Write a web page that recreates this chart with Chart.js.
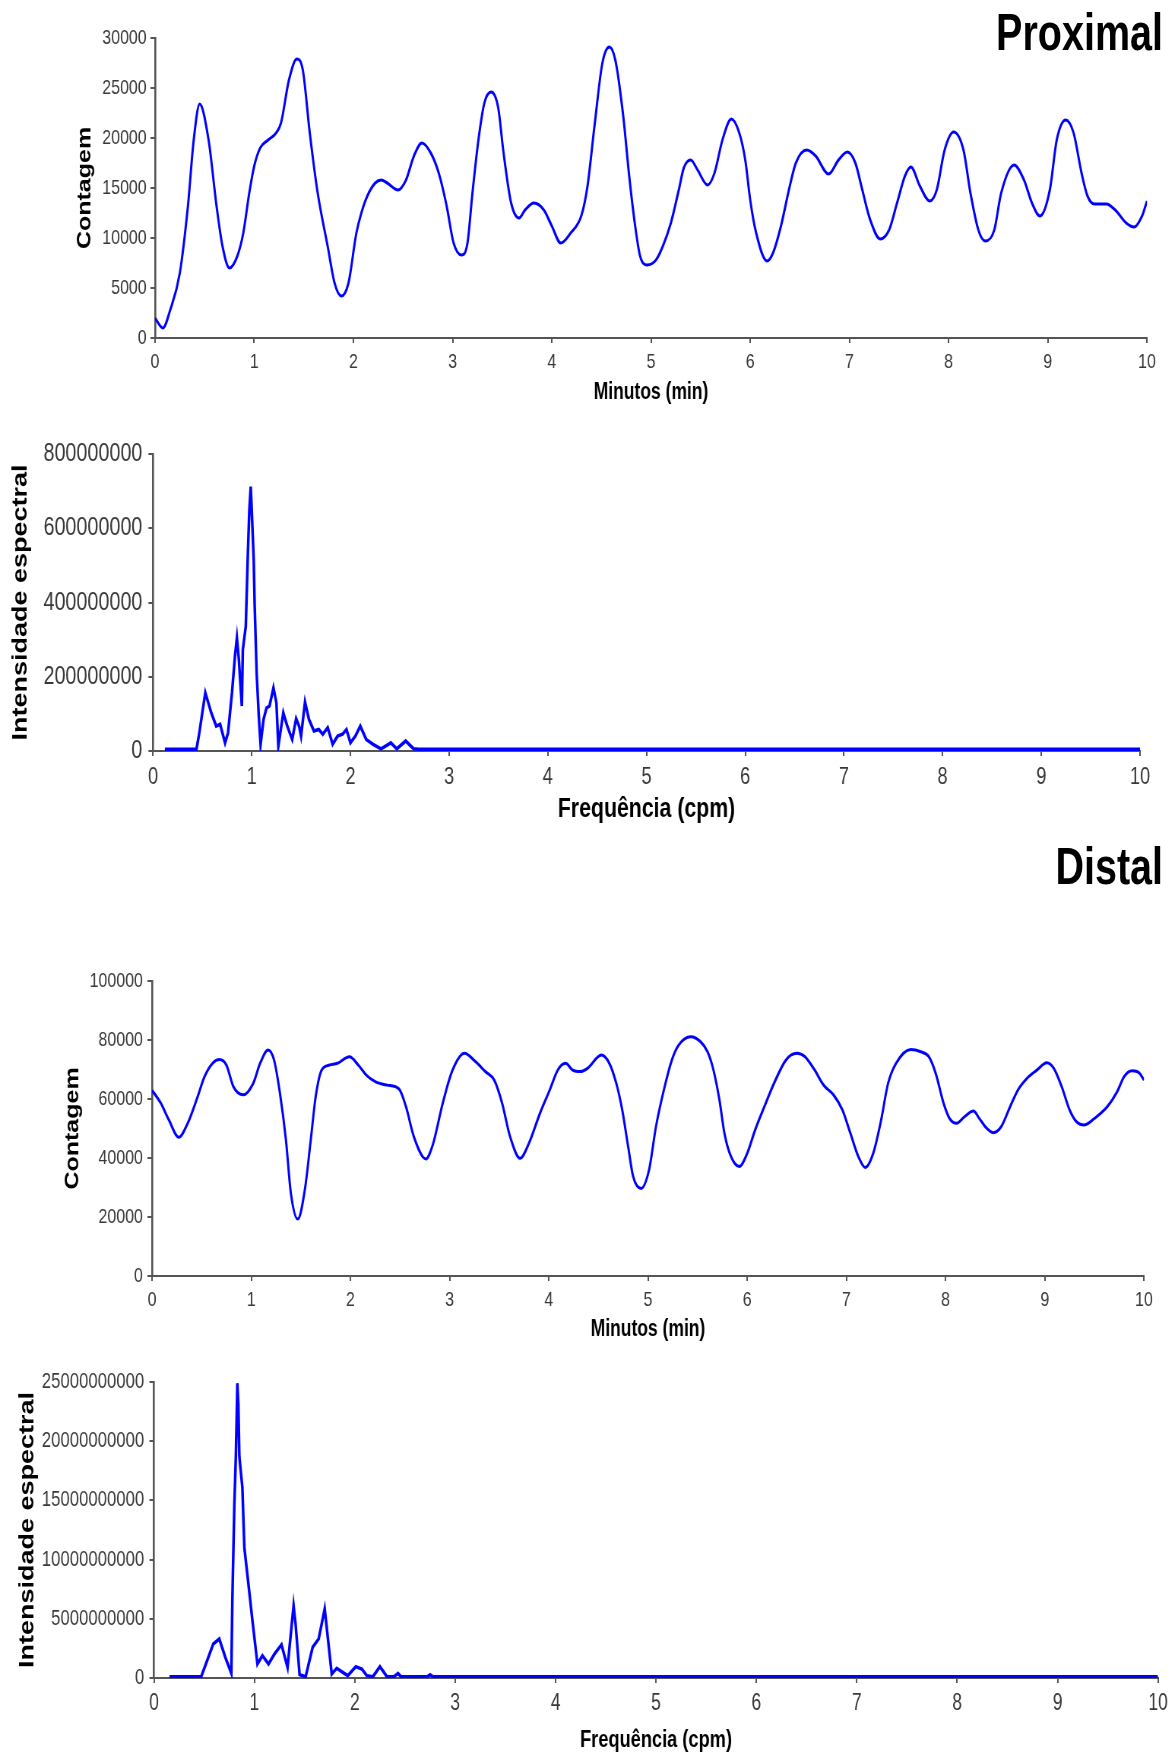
<!DOCTYPE html>
<html>
<head>
<meta charset="utf-8">
<script src="https://cdn.jsdelivr.net/npm/chart.js@4.4.1/dist/chart.umd.min.js"></script>
<style>
  html, body { margin: 0; padding: 0; background: #fff; width: 1176px; height: 1755px; overflow: hidden; }
  #sheet { position: absolute; left: 0; top: 0; height: 1755px; transform-origin: 0 0; }
  #sheet canvas { position: absolute; left: 0; }
  .heading { position: absolute; font-family: "Liberation Sans", Arial, sans-serif; font-weight: bold;
             font-size: 52px; line-height: 52px; color: #000; white-space: nowrap; }
</style>
</head>
<body>
<div id="sheet">
  <div class="heading" id="hProx">Proximal</div>
  <canvas id="proxTime"></canvas>
  <canvas id="proxSpec"></canvas>
  <div class="heading" id="hDist">Distal</div>
  <canvas id="distTime"></canvas>
  <canvas id="distSpec"></canvas>
</div>
<script>
// ---------------- data ----------------
// Proximal: counts over time
const proxMin = [0, 0.08, 0.15, 0.25, 0.33, 0.39, 0.45, 0.54, 0.62, 0.68,
  0.75, 0.83, 0.89, 0.95, 1.0, 1.06, 1.14, 1.22, 1.27, 1.35,
  1.43, 1.49, 1.56, 1.64, 1.74, 1.81, 1.88, 1.95, 2.03, 2.08,
  2.14, 2.22, 2.28, 2.34, 2.45, 2.53, 2.61, 2.69, 2.78, 2.86,
  2.94, 3.01, 3.09, 3.15, 3.20, 3.26, 3.32, 3.39, 3.46, 3.51,
  3.59, 3.67, 3.73, 3.82, 3.92, 4.0, 4.09, 4.19, 4.30, 4.36,
  4.43, 4.51, 4.58, 4.64, 4.72, 4.78, 4.84, 4.89, 4.96, 5.05,
  5.12, 5.20, 5.28, 5.33, 5.40, 5.47, 5.57, 5.64, 5.72, 5.81,
  5.89, 5.95, 6.0, 6.06, 6.17, 6.23, 6.31, 6.39, 6.46, 6.57,
  6.66, 6.79, 6.89, 6.98, 7.06, 7.13, 7.21, 7.31, 7.40, 7.48,
  7.56, 7.62, 7.71, 7.81, 7.88, 7.96, 8.05, 8.15, 8.22, 8.30,
  8.37, 8.46, 8.53, 8.66, 8.76, 8.84, 8.92, 9.02, 9.09, 9.18,
  9.26, 9.34, 9.40, 9.47, 9.59, 9.68, 9.79, 9.87, 9.95, 10.0];
const proxCount = [2000, 1000, 2700, 6500, 13000, 19800, 23400, 19800, 13200, 9200,
  7000, 8200, 10500, 14500, 17200, 19000, 19800, 20500, 21500, 25800,
  27900, 26800, 20500, 14500, 9200, 5500, 4200, 5500, 10500, 12500,
  14200, 15500, 15800, 15500, 14800, 15800, 18200, 19500, 18500, 16500,
  13200, 9500, 8300, 9500, 14500, 19800, 23500, 24600, 23000, 18800,
  13500, 12000, 12800, 13500, 12800, 11200, 9500, 10500, 12300, 15200,
  21200, 27500, 29100, 27800, 22200, 16200, 11200, 8200, 7300, 7800,
  9200, 11500, 14800, 17000, 17800, 16800, 15300, 16500, 19800, 21900,
  20500, 17800, 13800, 10500, 7700, 8500, 11200, 14800, 17500, 18800,
  18200, 16400, 17800, 18600, 17500, 14800, 11800, 9900, 10800, 13500,
  16200, 17100, 15200, 13700, 14800, 18800, 20600, 18800, 14500, 10800,
  9700, 10800, 14500, 17300, 15800, 13500, 12200, 14800, 19800, 21800,
  20500, 16500, 14200, 13400, 13400, 12800, 11500, 11100, 12200, 13700];

// Proximal: spectrum
const proxFreq = [0.12, 0.44, 0.47, 0.53, 0.59, 0.64, 0.68, 0.73, 0.76, 0.80,
  0.83, 0.85, 0.87, 0.90, 0.91, 0.94, 0.96, 0.976, 0.99, 1.0,
  1.02, 1.03, 1.05, 1.07, 1.09, 1.12, 1.15, 1.18, 1.22, 1.25,
  1.27, 1.32, 1.36, 1.41, 1.45, 1.48, 1.50, 1.54, 1.58, 1.63,
  1.68, 1.72, 1.77, 1.82, 1.87, 1.92, 1.96, 2.0, 2.05, 2.10,
  2.16, 2.23, 2.31, 2.41, 2.47, 2.56, 2.64, 2.69, 10.0];
const proxPower = [5e6, 5e6, 50e6, 157e6, 103e6, 67e6, 72e6, 22e6, 49e6, 157e6,
  255e6, 305e6, 246e6, 121e6, 273e6, 336e6, 524e6, 650e6, 712e6, 650e6,
  515e6, 390e6, 210e6, 103e6, 18e6, 85e6, 116e6, 121e6, 170e6, 130e6,
  13e6, 103e6, 67e6, 31e6, 87e6, 67e6, 40e6, 132e6, 85e6, 54e6,
  58e6, 45e6, 63e6, 18e6, 40e6, 45e6, 58e6, 22e6, 40e6, 67e6,
  31e6, 18e6, 6e6, 22e6, 6e6, 27e6, 6e6, 5e6, 5e6];

// Distal: counts over time
const distMin = [0, 0.09, 0.17, 0.27, 0.36, 0.46, 0.53, 0.61, 0.68, 0.75,
  0.82, 0.92, 1.02, 1.09, 1.17, 1.23, 1.29, 1.35, 1.40, 1.47,
  1.54, 1.60, 1.65, 1.71, 1.79, 1.87, 1.99, 2.08, 2.16, 2.25,
  2.37, 2.49, 2.56, 2.64, 2.76, 2.83, 2.93, 3.03, 3.15, 3.26,
  3.36, 3.45, 3.53, 3.61, 3.71, 3.80, 3.91, 4.01, 4.09, 4.17,
  4.24, 4.32, 4.39, 4.53, 4.61, 4.68, 4.74, 4.80, 4.85, 4.93,
  5.01, 5.08, 5.16, 5.24, 5.31, 5.43, 5.53, 5.60, 5.66, 5.72,
  5.77, 5.83, 5.92, 6.0, 6.08, 6.18, 6.27, 6.39, 6.50, 6.58,
  6.68, 6.77, 6.87, 6.96, 7.04, 7.12, 7.19, 7.27, 7.35, 7.42,
  7.50, 7.65, 7.75, 7.83, 7.90, 7.98, 8.04, 8.11, 8.19, 8.28,
  8.34, 8.40, 8.48, 8.56, 8.65, 8.73, 8.82, 8.92, 9.02, 9.09,
  9.17, 9.25, 9.32, 9.40, 9.50, 9.63, 9.73, 9.80, 9.88, 9.95,
  10.0];
const distCount = [63000, 58500, 52900, 47000, 51800, 60800, 67600, 72100, 73400, 71500,
  64200, 61400, 65300, 72100, 76600, 73200, 61900, 46100, 28000, 19300,
  29100, 46100, 60800, 69800, 71500, 72100, 74300, 71500, 68100, 65900,
  64700, 63400, 57400, 47200, 39700, 44400, 58500, 69800, 75500, 72700,
  69300, 66400, 58500, 47200, 39900, 45000, 55100, 63100, 69800, 72100,
  69800, 69300, 70400, 74900, 72100, 65300, 56300, 43800, 33700, 29700,
  35900, 50600, 63100, 73200, 78300, 81100, 79400, 76000, 69800, 59700,
  48400, 41000, 37100, 41600, 49500, 58000, 65300, 73200, 75500, 74400,
  69800, 64700, 61400, 56300, 48400, 40500, 36800, 41600, 52900, 65300,
  72100, 76800, 76000, 74400, 68700, 58500, 53400, 51800, 54000, 55900,
  53400, 50600, 48600, 50600, 57400, 63100, 67000, 69800, 72300, 70400,
  64200, 56300, 52300, 51200, 53400, 57400, 62500, 67600, 69600, 68900,
  66400];

// Distal: spectrum
const distFreq = [0.154, 0.47, 0.59, 0.65, 0.71, 0.77, 0.78, 0.80, 0.815, 0.83,
  0.84, 0.85, 0.88, 0.90, 0.94, 0.98, 1.03, 1.08, 1.14, 1.20,
  1.27, 1.33, 1.39, 1.41, 1.45, 1.51, 1.58, 1.64, 1.70, 1.77,
  1.82, 1.88, 1.93, 2.01, 2.07, 2.12, 2.18, 2.25, 2.32, 2.39,
  2.43, 2.46, 2.72, 2.75, 2.78, 10.0];
const distPower = [1.1e8, 1.1e8, 2.88e9, 3.3e9, 1.75e9, 3.9e8, 6.5e9, 1.47e10, 1.87e10, 2.49e10,
  2.32e10, 1.87e10, 1.61e10, 1.1e10, 7.95e9, 4.85e9, 1.18e9, 1.89e9, 1.18e9, 2.03e9,
  2.82e9, 9e8, 6.12e9, 4.57e9, 2.8e8, 1.1e8, 2.6e9, 3.3e9, 5.84e9, 3.4e8,
  8.2e8, 4.8e8, 2e8, 9.6e8, 7.6e8, 2e8, 1.1e8, 9.6e8, 1.1e8, 1.1e8,
  3.9e8, 1.1e8, 1.1e8, 2.8e8, 1.1e8, 1.1e8];

const xTicks = [0, 1, 2, 3, 4, 5, 6, 7, 8, 9, 10];
const proxCountTicks = [0, 5000, 10000, 15000, 20000, 25000, 30000];
const proxPowerTicks = [0, 200000000, 400000000, 600000000, 800000000];
const distCountTicks = [0, 20000, 40000, 60000, 80000, 100000];
const distPowerTicks = [0, 5000000000, 10000000000, 15000000000, 20000000000, 25000000000];

// ---------------- layout ----------------
// the source picture is squeezed sideways, so draw wide and squeeze the sheet
const SQUEEZE = 0.76;
const SHEET_W = Math.round(1176 / SQUEEZE);
const FONT = '"Liberation Sans", Arial, sans-serif';
const BLUE = '#0000ff';
const AXIS = '#555555';
const TICK_TEXT = '#383838';

const sheet = document.getElementById('sheet');
sheet.style.width = SHEET_W + 'px';
sheet.style.transform = 'scaleX(' + SQUEEZE + ')';

const hProx = document.getElementById('hProx');
hProx.style.top = '6px';
hProx.style.right = (SHEET_W - 1163 / SQUEEZE) + 'px';
const hDist = document.getElementById('hDist');
hDist.style.top = '840px';
hDist.style.right = (SHEET_W - 1163 / SQUEEZE) + 'px';

// positions below are in picture pixels; x gets widened here
function drawPanel(id, xs, ys, yTicks, look) {
  const cv = document.getElementById(id);
  const h = look.bottom - look.top;
  cv.width = SHEET_W;
  cv.height = h;
  cv.style.top = look.top + 'px';

  const plotLeft = look.plotLeft / SQUEEZE;
  const plotRight = look.plotRight / SQUEEZE;
  const points = xs.map((x, i) => ({ x: x, y: ys[i] }));

  return new Chart(cv, {
    type: 'line',
    data: {
      datasets: [{
        data: points,
        borderColor: BLUE,
        borderWidth: look.lineWidth,
        pointRadius: 0,
        fill: false,
        tension: look.smooth ? 0.4 : 0,
        cubicInterpolationMode: look.smooth ? 'monotone' : 'default',
      }],
    },
    options: {
      responsive: false,
      animation: false,
      devicePixelRatio: 1,
      layout: { padding: { left: 0, right: SHEET_W - plotRight, top: look.plotTop - look.top, bottom: 0 } },
      plugins: { legend: { display: false }, tooltip: { enabled: false } },
      scales: {
        x: {
          type: 'linear',
          min: xTicks[0],
          max: xTicks[xTicks.length - 1],
          afterBuildTicks: (s) => { s.ticks = xTicks.map(v => ({ value: v })); },
          ticks: { color: TICK_TEXT, font: { family: FONT, size: look.xTickSize }, padding: 7, maxRotation: 0, autoSkip: false },
          grid: { drawOnChartArea: false, drawTicks: true, tickLength: 5, color: AXIS, lineWidth: 2 },
          border: { display: true, color: AXIS, width: 2 },
          title: {
            display: true, text: look.xTitle, color: '#000',
            font: { family: FONT, size: look.xTitleSize, weight: 'bold' },
            padding: { top: 0, bottom: (look.bottom - look.xTitleY) - look.xTitleSize * 0.6 },
          },
          afterFit: (s) => { s.height = look.bottom - look.plotBottom; },
        },
        y: {
          type: 'linear',
          min: yTicks[0],
          max: yTicks[yTicks.length - 1],
          afterBuildTicks: (s) => { s.ticks = yTicks.map(v => ({ value: v })); },
          ticks: {
            color: TICK_TEXT, font: { family: FONT, size: look.yTickSize }, padding: look.yTickPad,
            callback: (v) => String(Math.round(v)),
          },
          grid: { drawOnChartArea: false, drawTicks: true, tickLength: 6, color: AXIS, lineWidth: 2 },
          border: { display: true, color: AXIS, width: 2.6 },
          title: {
            display: true, text: look.yTitle, color: '#000',
            font: { family: FONT, size: look.yTitleSize, weight: 'bold' },
            padding: { top: look.yTitleX / SQUEEZE - look.yTitleSize * 0.6, bottom: 0 },
          },
          afterFit: (s) => { s.width = plotLeft; },
        },
      },
    },
  });
}

drawPanel('proxTime', proxMin, proxCount, proxCountTicks, {
  top: 0, bottom: 410, plotLeft: 155, plotRight: 1147, plotTop: 38, plotBottom: 338,
  lineWidth: 3, smooth: true,
  xTitle: 'Minutos (min)', xTitleSize: 23, xTitleY: 393, xTickSize: 21,
  yTitle: 'Contagem', yTitleSize: 25, yTitleX: 85, yTickSize: 21, yTickPad: 5,
});

drawPanel('proxSpec', proxFreq, proxPower, proxPowerTicks, {
  top: 420, bottom: 830, plotLeft: 153, plotRight: 1140, plotTop: 454, plotBottom: 751,
  lineWidth: 3.5, smooth: false,
  xTitle: 'Frequência (cpm)', xTitleSize: 28, xTitleY: 809, xTickSize: 24,
  yTitle: 'Intensidade espectral', yTitleSize: 27, yTitleX: 21, yTickSize: 26, yTickPad: 8,
});

drawPanel('distTime', distMin, distCount, distCountTicks, {
  top: 940, bottom: 1350, plotLeft: 152, plotRight: 1144, plotTop: 981, plotBottom: 1276,
  lineWidth: 3, smooth: true,
  xTitle: 'Minutos (min)', xTitleSize: 23, xTitleY: 1330, xTickSize: 21,
  yTitle: 'Contagem', yTitleSize: 25, yTitleX: 73, yTickSize: 21, yTickPad: 6,
});

drawPanel('distSpec', distFreq, distPower, distPowerTicks, {
  top: 1350, bottom: 1755, plotLeft: 154, plotRight: 1158, plotTop: 1382, plotBottom: 1678,
  lineWidth: 3.5, smooth: false,
  xTitle: 'Frequência (cpm)', xTitleSize: 24, xTitleY: 1740, xTickSize: 23,
  yTitle: 'Intensidade espectral', yTitleSize: 27, yTitleX: 28, yTickSize: 22, yTickPad: 7,
});
</script>
</body>
</html>
